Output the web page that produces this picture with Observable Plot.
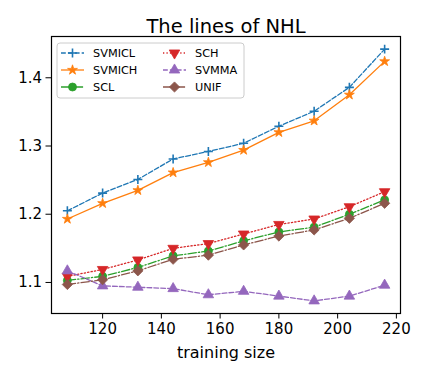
<!DOCTYPE html>
<html>
<head>
<meta charset="utf-8">
<script src="https://cdn.jsdelivr.net/npm/d3@7"></script>
<script src="https://cdn.jsdelivr.net/npm/@observablehq/plot@0.6"></script>
<style>
  html, body { margin: 0; padding: 0; background: #fff; }
  #chart { width: 423px; height: 377px; }
</style>
</head>
<body>
<div id="chart"></div>
<script>
const title = "The lines of NHL";
const xLabel = "training size";
const trainingSize = [108, 120, 132, 144, 156, 168, 180, 192, 204, 216];
const SVMICL = [1.205, 1.231, 1.251, 1.281, 1.292, 1.304, 1.329, 1.351, 1.386, 1.442];
const SVMICH = [1.193, 1.216, 1.235, 1.261, 1.276, 1.294, 1.320, 1.337, 1.375, 1.424];
const SCL    = [1.103, 1.109, 1.122, 1.139, 1.146, 1.161, 1.174, 1.181, 1.200, 1.221];
const SCH    = [1.109, 1.119, 1.133, 1.150, 1.157, 1.171, 1.185, 1.193, 1.211, 1.233];
const SVMMA  = [1.117, 1.095, 1.093, 1.091, 1.082, 1.087, 1.080, 1.073, 1.080, 1.096];
const UNIF   = [1.097, 1.104, 1.117, 1.134, 1.140, 1.155, 1.168, 1.177, 1.194, 1.216];
const seriesNames = ["SVMICL", "SVMICH", "SCL", "SCH", "SVMMA", "UNIF"];
const xTicks = [120, 140, 160, 180, 200, 220];
const yTicks = [1.1, 1.2, 1.3, 1.4];

const triangleDown = {
  draw(ctx, size) {
    const s3 = Math.sqrt(3);
    const y = Math.sqrt(size / (s3 * 3));
    ctx.moveTo(0, y * 2);
    ctx.lineTo(-s3 * y, -y);
    ctx.lineTo(s3 * y, -y);
    ctx.closePath();
  }
};

const valuesBySeries = {SVMICL, SVMICH, SCL, SCH, SVMMA, UNIF};
const lw = 1.3;
const styles = {
  SVMICL: {color: "#1f77b4", dash: [3.7*lw, 1.6*lw].join(","), symbol: "plus", r: 3.0, stroke: true},
  SVMICH: {color: "#ff7f0e", dash: null, symbol: "star", r: 3.1},
  SCL:    {color: "#2ca02c", dash: [6.4*lw, 1.6*lw, 1*lw, 1.6*lw].join(","), symbol: "circle", r: 4},
  SCH:    {color: "#d62728", dash: [1*lw, 1.65*lw].join(","), symbol: triangleDown, r: 3.9},
  SVMMA:  {color: "#9467bd", dash: [3.7*lw, 1.6*lw].join(","), symbol: "triangle", r: 3.9},
  UNIF:   {color: "#8c564b", dash: [6.4*lw, 1.6*lw, 1*lw, 1.6*lw].join(","), symbol: "diamond2", r: 4.6}
};

const marks = [];
for (const name of seriesNames) {
  const st = styles[name];
  const data = trainingSize.map((x, i) => ({x, y: valuesBySeries[name][i]}));
  marks.push(Plot.line(data, {x: "x", y: "y", stroke: st.color, strokeWidth: lw, strokeDasharray: st.dash}));
  if (st.stroke) {
    marks.push(Plot.dot(data, {x: "x", y: "y", symbol: st.symbol, r: st.r, stroke: st.color, strokeWidth: 1.6, fill: "none"}));
  } else {
    marks.push(Plot.dot(data, {x: "x", y: "y", symbol: st.symbol, r: st.r, fill: st.color, stroke: st.color, strokeWidth: 0.8}));
  }
}

const chart = Plot.plot({
  width: 423,
  height: 377,
  marginLeft: 51,
  marginRight: 23,
  marginTop: 36,
  marginBottom: 64,
  style: {fontFamily: "DejaVu Sans", fontSize: "15px", background: "#fff", color: "#000"},
  x: {domain: [102.6, 221.4]},
  y: {domain: [1.0545, 1.4605]},
  marks: [
    Plot.axisX({ticks: xTicks, tickSize: 5.5, tickPadding: 4, label: null, fontSize: 15, tickFormat: d => String(d)}),
    Plot.axisY({ticks: yTicks, tickSize: 5.5, tickPadding: 4, label: null, fontSize: 15, tickFormat: d => d.toFixed(1)}),
    ...marks,
    Plot.frame({stroke: "#000", strokeWidth: 1.2}),
    Plot.text([title], {text: d => d, frameAnchor: "top", dy: -17, fontSize: 19.5, fill: "#000"}),
    Plot.text([xLabel], {text: d => d, frameAnchor: "bottom", dy: 44, fontSize: 16, fill: "#000"})
  ]
});
document.getElementById("chart").appendChild(chart);

// Legend
const svg = d3.select(chart);
const lg = svg.append("g").attr("font-family", "DejaVu Sans").attr("font-size", "11.3px").attr("text-anchor", "start");
lg.append("rect").attr("x", 57).attr("y", 43).attr("width", 187).attr("height", 55)
  .attr("rx", 3).attr("fill", "#fff").attr("fill-opacity", 0.8).attr("stroke", "#cccccc").attr("stroke-width", 1);
seriesNames.forEach((name, i) => {
  const st = styles[name];
  const col = Math.floor(i / 3), row = i % 3;
  const x0 = col === 0 ? 61 : 163;
  const y0 = 53 + row * 17;
  const g = lg.append("g");
  const line = g.append("line").attr("x1", x0).attr("x2", x0 + 23).attr("y1", y0).attr("y2", y0)
    .attr("stroke", st.color).attr("stroke-width", lw);
  if (st.dash) line.attr("stroke-dasharray", st.dash);
  const size = Math.PI * st.r * st.r;
  const typeMap = {plus: d3.symbolPlus, star: d3.symbolStar, circle: d3.symbolCircle, triangle: d3.symbolTriangle, diamond2: d3.symbolDiamond2};
  const type = typeof st.symbol === "string" ? typeMap[st.symbol] : st.symbol;
  const p = g.append("path").attr("d", d3.symbol(type, size)()).attr("transform", `translate(${x0 + 11.5},${y0})`);
  if (st.stroke) p.attr("fill", "none").attr("stroke", st.color).attr("stroke-width", 1.6);
  else p.attr("fill", st.color).attr("stroke", st.color).attr("stroke-width", 0.8);
  g.append("text").attr("x", x0 + 32).attr("y", y0).attr("dy", "0.35em").attr("fill", "#000").text(name);
});
</script>
</body>
</html>
